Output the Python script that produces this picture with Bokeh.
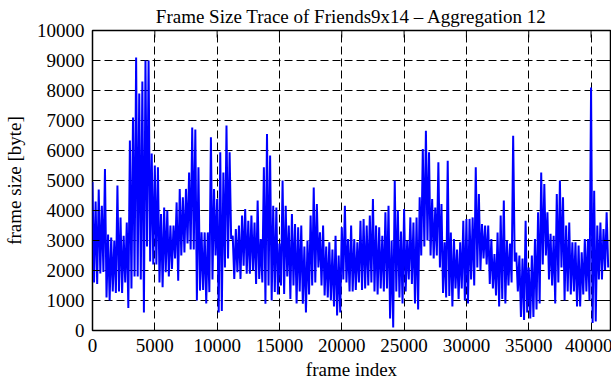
from bokeh.plotting import figure
from bokeh.models import FixedTicker, Range1d, ColumnDataSource
from bokeh.embed import file_html
from bokeh.resources import INLINE
import numpy as np

TITLE = "Frame Size Trace of Friends9x14 \u2013 Aggregation 12"
X_LABEL = "frame index"
Y_LABEL = "frame size [byte]"
X_TICKS = [0, 5000, 10000, 15000, 20000, 25000, 30000, 35000, 40000]
Y_TICKS = [0, 1000, 2000, 3000, 4000, 5000, 6000, 7000, 8000, 9000, 10000]
X_MAX = 41560
Y_MAX = 10000

# frame index at which each 250-frame window starts
BIN_FRAMES = 250
# highest frame size (byte) seen in each window
peak_size = [
    4950, 4300, 4700, 4160, 5380, 3200, 3100, 3000, 4830, 3770,
    3160, 3600, 6330, 7100, 9100, 7900, 8300, 9000, 9000, 5900,
    5500, 5440, 3880, 4100, 4000, 3500, 3500, 4270, 4720, 4440,
    4720, 5270, 6770, 6700, 5440, 3270, 3270, 3270, 6440, 4720,
    4380, 5940, 5270, 6830, 5940, 3160, 3380, 3500, 3830, 4050,
    3660, 3830, 3600, 4330, 3050, 5440, 6550, 5830, 4160, 4100,
    2900, 5000, 4160, 3500, 3880, 3550, 3440, 3500, 2800, 3000,
    3830, 4770, 4220, 3270, 3500, 2800, 2940, 2700, 3160, 2500,
    3440, 4160, 3050, 3500, 3050, 2940, 3660, 3720, 3500, 3830,
    4380, 3500, 3440, 3160, 3940, 4160, 3000, 5000, 4000, 3300,
    4050, 3000, 3770, 3600, 3770, 4440, 6050, 6660, 5940, 4380,
    4100, 5610, 4220, 2940, 5660, 3270, 3050, 2700, 2940, 3660,
    3720, 3720, 3770, 5440, 4550, 3550, 3500, 3500, 3050, 2550,
    3270, 3830, 4330, 3000, 2900, 6490, 2600, 2500, 2400, 3660,
    2100, 2500, 3050, 3940, 5270, 4880, 3940, 3220, 3160, 4550,
    5000, 4440, 3500, 3600, 2940, 2940, 2830, 2610, 3050, 3050,
    8100, 4660, 3500, 3600, 3380, 3940,
]
# lowest frame size (byte) seen in each window
trough_size = [
    1600, 1550, 1900, 1950, 1100, 1000, 1300, 1250, 1300, 1250,
    1600, 750, 1400, 1800, 1800, 1700, 600, 2800, 2300, 2200,
    2200, 1600, 1440, 1940, 1800, 2050, 2400, 1660, 2500, 2600,
    2900, 2700, 2700, 1000, 1330, 1350, 900, 1280, 1700, 2500,
    600, 650, 2100, 2400, 3050, 1720, 1940, 1720, 2160, 1890,
    1890, 2000, 1550, 1720, 1600, 890, 1500, 1000, 1280, 1200,
    1500, 1220, 1800, 1050, 1500, 900, 1300, 890, 600, 1200,
    1500, 1600, 2100, 1500, 1170, 1100, 1000, 800, 500, 600,
    1700, 1600, 1300, 1300, 1350, 1600, 1350, 1400, 1500, 1600,
    1300, 1200, 1400, 1300, 1400, 400, 100, 1300, 1100, 900,
    1300, 1700, 1550, 900, 700, 2500, 2800, 3000, 2500, 2400,
    2500, 2100, 1250, 1100, 1150, 800, 1400, 1050, 1400, 1000,
    900, 1700, 1500, 2100, 2000, 2400, 2200, 1550, 1400, 1170,
    800, 1050, 900, 1500, 1600, 2300, 1300, 450, 350, 600,
    400, 450, 700, 900, 2200, 2500, 1700, 1500, 900, 1600,
    2100, 1000, 1300, 1200, 1300, 800, 800, 1200, 1300, 1000,
    250, 300, 1700, 1700, 2000, 2100,
]

n = len(peak_size)
starts = np.arange(n) * BIN_FRAMES
xs = np.empty(2 * n)
ys = np.empty(2 * n)
xs[0::2] = starts
xs[1::2] = starts + BIN_FRAMES / 2
ys[0::2] = peak_size
ys[1::2] = trough_size
src = ColumnDataSource(dict(frame=xs, size=ys))

FONT = "Liberation Serif"
FS = "19px"

p = figure(frame_width=518, frame_height=300,
           x_range=Range1d(0, X_MAX), y_range=Range1d(0, Y_MAX),
           output_backend="svg", toolbar_location=None,
           title=TITLE,
           min_border_left=91, min_border_right=2,
           min_border_top=30, min_border_bottom=50)

p.line("frame", "size", source=src, line_color="#0000ff", line_width=2)

# inward tick marks on the top and right edges (clipped to the frame)
top_src = ColumnDataSource(dict(x=X_TICKS, y=[Y_MAX] * len(X_TICKS)))
right_src = ColumnDataSource(dict(x=[X_MAX] * len(Y_TICKS), y=Y_TICKS))
p.scatter("x", "y", source=top_src, marker="dash", size=14, angle=np.pi / 2,
          line_color="black", line_width=1)
p.scatter("x", "y", source=right_src, marker="dash", size=14,
          line_color="black", line_width=1)

p.title.align = "center"
p.title.text_font = FONT
p.title.text_font_style = "normal"
p.title.text_font_size = FS
p.title.text_color = "black"
p.title.standoff = 7
p.title.offset = 0

p.outline_line_color = "black"
p.outline_line_width = 1.5
p.background_fill_color = "white"
p.border_fill_color = "white"

p.xaxis.ticker = FixedTicker(ticks=X_TICKS)
p.yaxis.ticker = FixedTicker(ticks=Y_TICKS)
p.xaxis.axis_label = X_LABEL
p.yaxis.axis_label = Y_LABEL

for ax in (p.xaxis[0], p.yaxis[0]):
    ax.axis_line_color = None
    ax.major_tick_in = 7
    ax.major_tick_out = 0
    ax.minor_tick_line_color = None
    ax.major_tick_line_color = "black"
    ax.major_label_text_font = FONT
    ax.major_label_text_font_size = FS
    ax.major_label_text_color = "black"
    ax.axis_label_text_font = FONT
    ax.axis_label_text_font_size = FS
    ax.axis_label_text_font_style = "normal"
    ax.axis_label_text_color = "black"
    ax.major_label_standoff = 8
p.xaxis.axis_label_standoff = 4
p.yaxis.axis_label_standoff = 9

for g in (p.xgrid[0], p.ygrid[0]):
    g.grid_line_color = "black"
    g.grid_line_dash = "8 4"
    g.grid_line_width = 1
p.xgrid.ticker = FixedTicker(ticks=X_TICKS)
p.ygrid.ticker = FixedTicker(ticks=Y_TICKS)

open("out.html", "w").write(file_html(p, INLINE))
